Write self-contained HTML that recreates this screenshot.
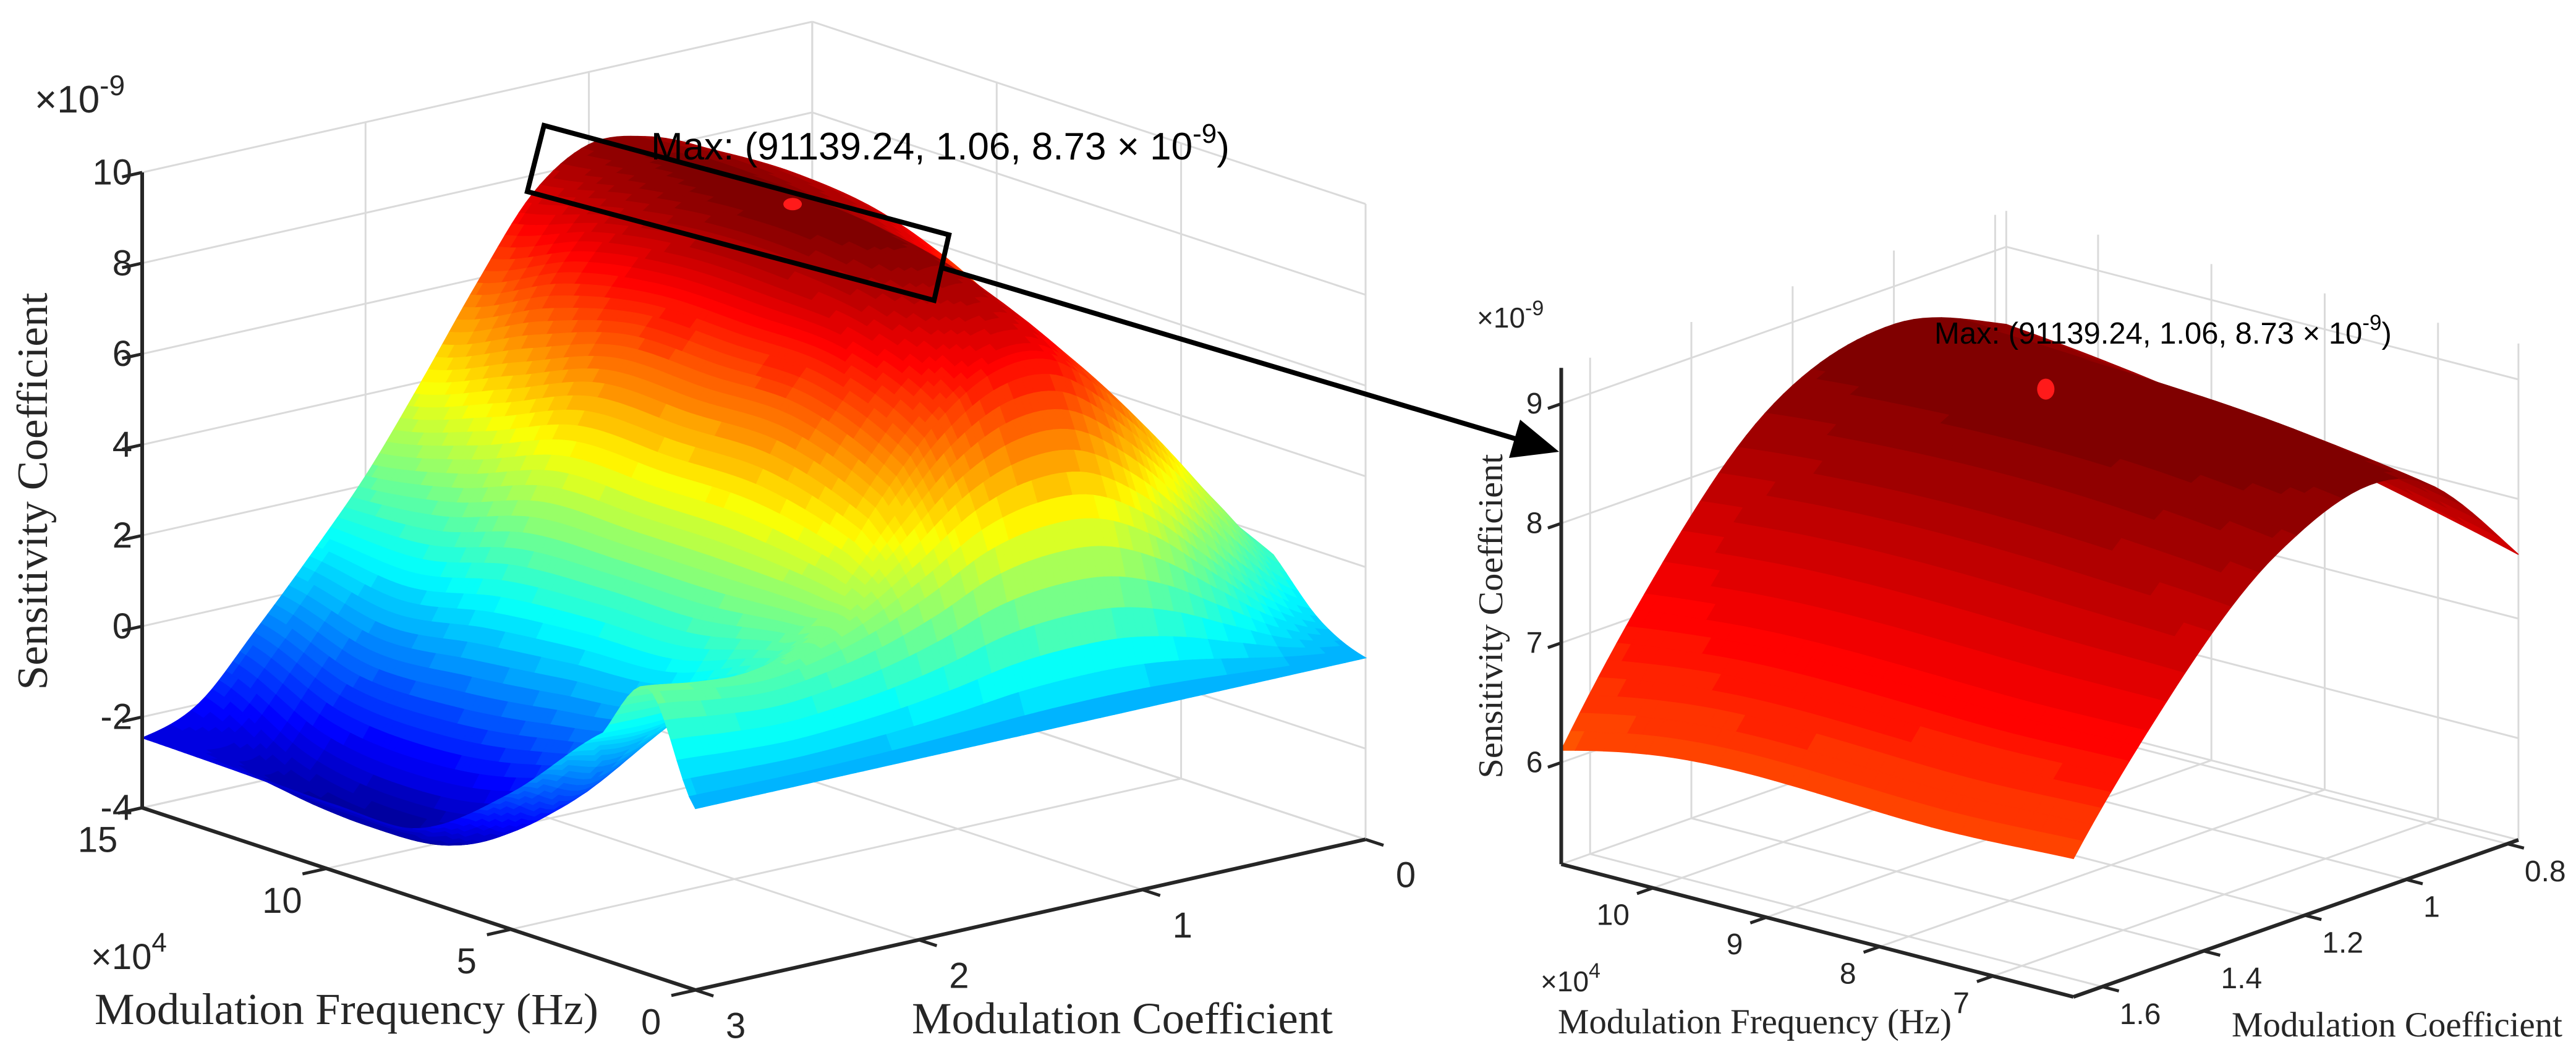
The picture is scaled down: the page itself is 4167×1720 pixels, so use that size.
<!DOCTYPE html>
<html><head><meta charset="utf-8"><title>Sensitivity Coefficient surface</title>
<style>html,body{margin:0;padding:0;background:#fff;}svg{display:block;}</style></head>
<body>
<svg id="fig" xmlns="http://www.w3.org/2000/svg" width="4167" height="1720" viewBox="0 0 4167 1720">
<rect x="0" y="0" width="4167" height="1720" fill="#ffffff"/>
<g id="leftGrid"></g>
<g id="rightGrid"></g>
<g id="leftSurf"></g>
<g id="rightSurf"></g>
<g id="leftAxes"></g>
<g id="rightAxes"></g>
<g id="leftLabels" font-family="'Liberation Sans', sans-serif" font-size="58" fill="#262626"></g>
<g id="rightLabels" font-family="'Liberation Sans', sans-serif" font-size="48" fill="#262626"></g>

<!-- left titles -->
<text x="56" y="182" font-family="'Liberation Sans', sans-serif" font-size="62" fill="#262626">×10<tspan dy="-28" font-size="46">-9</tspan></text>
<text transform="translate(76,795) rotate(-90)" text-anchor="middle" font-family="'Liberation Serif', serif" font-size="70" fill="#262626" textLength="643" lengthAdjust="spacingAndGlyphs">Sensitivity Coefficient</text>
<text x="153" y="1657" font-family="'Liberation Serif', serif" font-size="72" fill="#262626" textLength="815" lengthAdjust="spacingAndGlyphs">Modulation Frequency (Hz)</text>
<text x="147" y="1568" font-family="'Liberation Sans', sans-serif" font-size="58" fill="#262626">×10<tspan dy="-28" font-size="44">4</tspan></text>
<text x="1475" y="1672" font-family="'Liberation Serif', serif" font-size="72" fill="#262626" textLength="681" lengthAdjust="spacingAndGlyphs">Modulation Coefficient</text>
<text x="1053" y="258" font-family="'Liberation Sans', sans-serif" font-size="62" fill="#000">Max: (91139.24, 1.06, 8.73 × 10<tspan dy="-27" font-size="44">-9</tspan><tspan dy="27">)</tspan></text>

<!-- right titles -->
<text x="2389" y="530" font-family="'Liberation Sans', sans-serif" font-size="46" fill="#262626">×10<tspan dy="-20" font-size="34">-9</tspan></text>
<text transform="translate(2430,997) rotate(-90)" text-anchor="middle" font-family="'Liberation Serif', serif" font-size="56" fill="#262626" textLength="525" lengthAdjust="spacingAndGlyphs">Sensitivity Coefficient</text>
<text x="2520" y="1672" font-family="'Liberation Serif', serif" font-size="57" fill="#262626" textLength="637" lengthAdjust="spacingAndGlyphs">Modulation Frequency (Hz)</text>
<text x="2492" y="1604" font-family="'Liberation Sans', sans-serif" font-size="46" fill="#262626">×10<tspan dy="-22" font-size="34">4</tspan></text>
<text x="3610" y="1677" font-family="'Liberation Serif', serif" font-size="57" fill="#262626" textLength="535" lengthAdjust="spacingAndGlyphs">Modulation Coefficient</text>
<text x="3129" y="556" font-family="'Liberation Sans', sans-serif" font-size="49" fill="#000">Max: (91139.24, 1.06, 8.73 × 10<tspan dy="-22" font-size="35">-9</tspan><tspan dy="22">)</tspan></text>

<g id="markers"></g>

<!-- zoom box and arrow -->
<polygon points="880,203 1535,380 1511,486 853,310" fill="none" stroke="#000" stroke-width="8" stroke-linejoin="miter"/>
<line x1="1523" y1="433" x2="2455" y2="711" stroke="#000" stroke-width="8"/>
<polygon points="2522,731 2441,741 2459,679" fill="#000"/>
</svg>
<script>
// ---------- data ----------
const fGrid = [0, 1.25, 2.5, 5, 7.5, 10, 12.5, 15];         // x10^4 Hz
const mGrid = [0, 0.25, 0.5, 0.75, 1, 1.25, 1.5, 1.75, 2, 2.25, 2.5, 2.75, 3];
const zF0   = [0, 0, 0, 0, 0, 0, 0, 0, 0, 0, 0, 0, 0];
const zF125 = [0.5, 1.2, 2.3, 3.4, 4.1, 4.2, 3.9, 3.2, 2.6, 2.2, 2.0, 2.1, 2.3];
const zF25  = [1.6, 3.0, 4.6, 6.0, 7.0, 7.0, 6.2, 4.8, 3.1, 1.8, 1.2, 1.0, 1.0];
const zF5   = [2.6, 4.0, 5.5, 7.0, 8.2, 8.0, 7.1, 5.6, 3.3, 1.1, -0.6, -1.5, -1.0];
const zF75  = [4.0, 5.3, 6.5, 7.7, 8.65, 8.4, 7.2, 5.6, 3.3, 1.0, -1.3, -3.0, -2.45];
const zF10  = [5.2, 6.5, 7.6, 8.2, 8.7, 8.4, 7.2, 5.6, 3.3, 0.8, -1.6, -3.3, -2.55];
const zF12  = [5.8, 7.0, 7.9, 8.4, 8.6, 8.1, 6.8, 4.8, 2.6, 0.4, -1.5, -3.0, -2.5];
const zF15  = [6.0, 7.0, 7.8, 8.3, 8.4, 7.6, 5.9, 4.0, 2.2, 0.7, -0.7, -2.0, -2.46];
const maxPoint = [9.113924, 1.06, 8.73];
const zTicksL = [-4, -2, 0, 2, 4, 6, 8, 10];
const fTicksL = [0, 5, 10, 15];
const mTicksL = [0, 1, 2, 3];
const zTicksR = [6, 7, 8, 9];
const fTicksR = [7, 8, 9, 10];
const mTicksR = [0.8, 1, 1.2, 1.4, 1.6];
const mTickTextR = ['0.8', '1', '1.2', '1.4', '1.6'];
const colorMin = -3.7, colorMax = 8.73;

const zGrid = [zF0, zF125, zF25, zF5, zF75, zF10, zF12, zF15];
const NS = 'http://www.w3.org/2000/svg';

// ---------- axes (projections) ----------
const L = {f0: 0, f1: 15, m0: 0, m1: 3, z0: -4, z1: 10};
const R = {f0: 6.29, f1: 10.81, m0: 0.778, m1: 1.657, z0: 5.15, z1: 9.3};
function projL(f, m, z) {
  return [230 + (15 - f) * 59.67 + (3 - m) * 361.3,
          1307 + (15 - f) * 19.67 - (3 - m) * 81.3 - (z + 4) * 73.43];
}
function projR(f, m, z) {
  return [3354 + (f - 6.29) * (-183.3) + (m - 1.657) * (-819),
          1613 + (f - 6.29) * (-47.5) + (m - 1.657) * 289 - (z - 5.15) * 193.5];
}

// ---------- helpers ----------
function cr(p0, p1, p2, p3, t) {
  return 0.5 * ((2 * p1) + (-p0 + p2) * t + (2 * p0 - 5 * p1 + 4 * p2 - p3) * t * t + (-p0 + 3 * p1 - 3 * p2 + p3) * t * t * t);
}
function locate(g, x) {
  let i = 0;
  while (i < g.length - 2 && x > g[i + 1]) i++;
  return [i, (x - g[i]) / (g[i + 1] - g[i])];
}
function gz(i, j) {
  i = Math.max(0, Math.min(fGrid.length - 1, i));
  j = Math.max(0, Math.min(mGrid.length - 1, j));
  return zGrid[i][j];
}
function zAt(f, m) {
  const [fi, tf] = locate(fGrid, f);
  const [mj, tm] = locate(mGrid, m);
  const rows = [];
  for (let k = -1; k <= 2; k++) {
    rows.push(cr(gz(fi + k, mj - 1), gz(fi + k, mj), gz(fi + k, mj + 1), gz(fi + k, mj + 2), tm));
  }
  return cr(rows[0], rows[1], rows[2], rows[3], tf);
}
function clamp(v) { return Math.max(0, Math.min(1, v)); }
function jet(z) {
  let x = (z - colorMin) / (colorMax - colorMin);
  x = clamp(x);
  x = Math.min(63, Math.floor(x * 64)) / 63;
  const r = clamp(1.5 - Math.abs(4 * x - 3));
  const g = clamp(1.5 - Math.abs(4 * x - 2));
  const b = clamp(1.5 - Math.abs(4 * x - 1));
  return 'rgb(' + Math.round(r * 255) + ',' + Math.round(g * 255) + ',' + Math.round(b * 255) + ')';
}
function line(parent, a, b, stroke, w, name) {
  const el = document.createElementNS(NS, 'line');
  el.setAttribute('x1', a[0].toFixed(1)); el.setAttribute('y1', a[1].toFixed(1));
  el.setAttribute('x2', b[0].toFixed(1)); el.setAttribute('y2', b[1].toFixed(1));
  el.setAttribute('stroke', stroke); el.setAttribute('stroke-width', w);
  
  
  parent.appendChild(el);
  return el;
}
function label(parent, p, txt, anchor, name) {
  const el = document.createElementNS(NS, 'text');
  el.setAttribute('x', p[0].toFixed(1)); el.setAttribute('y', p[1].toFixed(1));
  el.setAttribute('text-anchor', anchor);
  el.setAttribute('dominant-baseline', 'central');
  el.textContent = txt;
  
  
  parent.appendChild(el);
}

// ---------- gridlines & axes ----------
function drawBox(B, proj, gGrid, gAxes, zT, fT, mT, side) {
  const gc = '#dadada', gw = 3;
  zT.forEach(z => {
    line(gGrid, proj(B.f1, B.m1, z), proj(B.f1, B.m0, z), gc, gw, side + '-z-gridline-fwall');
    line(gGrid, proj(B.f1, B.m0, z), proj(B.f0, B.m0, z), gc, gw, side + '-z-gridline-mwall');
  });
  mT.forEach(m => {
    line(gGrid, proj(B.f1, m, B.z0), proj(B.f1, m, B.z1), gc, gw, side + '-m-gridline-wall');
    line(gGrid, proj(B.f1, m, B.z0), proj(B.f0, m, B.z0), gc, gw, side + '-m-gridline-floor');
  });
  fT.forEach(f => {
    line(gGrid, proj(f, B.m0, B.z0), proj(f, B.m0, B.z1), gc, gw, side + '-f-gridline-wall');
    line(gGrid, proj(f, B.m0, B.z0), proj(f, B.m1, B.z0), gc, gw, side + '-f-gridline-floor');
  });
  line(gGrid, proj(B.f1, B.m0, B.z0), proj(B.f1, B.m0, B.z1), gc, gw, side + '-back-edge');
  line(gGrid, proj(B.f0, B.m0, B.z0), proj(B.f0, B.m0, B.z1), gc, gw, side + '-right-edge');
  line(gGrid, proj(B.f1, B.m0, B.z0), proj(B.f1, B.m1, B.z0), gc, gw, side + '-floor-edge-f');
  line(gGrid, proj(B.f1, B.m0, B.z0), proj(B.f0, B.m0, B.z0), gc, gw, side + '-floor-edge-m');
  const ac = '#262626', aw = 6;
  line(gAxes, proj(B.f1, B.m1, B.z0), proj(B.f1, B.m1, B.z1), ac, aw, side + '-z-axis');
  line(gAxes, proj(B.f1, B.m1, B.z0), proj(B.f0, B.m1, B.z0), ac, aw, side + '-f-axis');
  line(gAxes, proj(B.f0, B.m1, B.z0), proj(B.f0, B.m0, B.z0), ac, aw, side + '-m-axis');
  const dm = (B.m1 - B.m0) * 0.03, df = (B.f1 - B.f0) * 0.025;
  zT.forEach(z => line(gAxes, proj(B.f1, B.m1, z), proj(B.f1, B.m1 + dm, z), ac, 5, side + '-z-tick'));
  fT.forEach(f => line(gAxes, proj(f, B.m1, B.z0), proj(f, B.m1 + dm * 1.2, B.z0), ac, 5, side + '-f-tick'));
  mT.forEach(m => line(gAxes, proj(B.f0, m, B.z0), proj(B.f0 - df * 1.3, m, B.z0), ac, 5, side + '-m-tick'));
}
drawBox(L, projL, document.getElementById('leftGrid'), document.getElementById('leftAxes'), zTicksL, fTicksL, mTicksL, 'left');
drawBox(R, projR, document.getElementById('rightGrid'), document.getElementById('rightAxes'), zTicksR, fTicksR, mTicksR, 'right');

// tick labels
const gLL = document.getElementById('leftLabels');
zTicksL.forEach(z => { const p = projL(15, 3, z); label(gLL, [p[0] - 16, p[1]], String(z), 'end', 'left-z-tick-label'); });
fTicksL.forEach(f => { const p = projL(f, 3, -4); label(gLL, [p[0] - 72, p[1] + 52], String(f), 'middle', 'left-f-tick-label'); });
mTicksL.forEach(m => { const p = projL(0, m, -4); label(gLL, [p[0] + 65, p[1] + 58], String(m), 'middle', 'left-m-tick-label'); });
const gRL = document.getElementById('rightLabels');
zTicksR.forEach(z => { const p = projR(R.f1, R.m1, z); label(gRL, [p[0] - 30, p[1]], String(z), 'end', 'right-z-tick-label'); });
fTicksR.forEach(f => { const p = projR(f, R.m1, R.z0); label(gRL, [p[0] - 38, p[1] + 44], String(f), 'end', 'right-f-tick-label'); });
mTicksR.forEach((m, i) => { const p = projR(R.f0, m, R.z0); label(gRL, [p[0] + 28, p[1] + 45], mTickTextR[i], 'start', 'right-m-tick-label'); });

// ---------- surfaces ----------
function drawSurface(g, B, proj, nf, nm, name) {
  const quads = [];
  const pts = [], zs = [];
  for (let i = 0; i <= nf; i++) {
    pts.push([]); zs.push([]);
    const f = B.f0 + (B.f1 - B.f0) * i / nf;
    for (let j = 0; j <= nm; j++) {
      const m = B.m0 + (B.m1 - B.m0) * j / nm;
      const z = zAt(f, m);
      zs[i].push(z);
      pts[i].push(proj(f, m, z));
    }
  }
  for (let i = 0; i < nf; i++) {
    for (let j = 0; j < nm; j++) {
      const fc = B.f0 + (B.f1 - B.f0) * (i + 0.5) / nf;
      const mc = B.m0 + (B.m1 - B.m0) * (j + 0.5) / nm;
      const depth = proj(fc, mc, 0)[1];
      const zc = (zs[i][j] + zs[i + 1][j] + zs[i][j + 1] + zs[i + 1][j + 1]) / 4;
      quads.push([depth, [pts[i][j], pts[i + 1][j], pts[i + 1][j + 1], pts[i][j + 1]], zc]);
    }
  }
  quads.sort((a, b) => a[0] - b[0]);
  const frag = document.createDocumentFragment();
  quads.forEach(q => {
    const el = document.createElementNS(NS, 'polygon');
    el.setAttribute('points', q[1].map(p => p[0].toFixed(1) + ',' + p[1].toFixed(1)).join(' '));
    const c = jet(q[2]);
    el.setAttribute('fill', c);
    el.setAttribute('stroke', c);
    el.setAttribute('stroke-width', '1.6');
    
    
    frag.appendChild(el);
  });
  g.appendChild(frag);
}
drawSurface(document.getElementById('leftSurf'), L, projL, 90, 96, 'left-surface-facet');
drawSurface(document.getElementById('rightSurf'), R, projR, 36, 48, 'right-surface-facet');

// ---------- max markers ----------
const gM = document.getElementById('markers');
(function () {
  const pl = projL(maxPoint[0], maxPoint[1], maxPoint[2]);
  const e1 = document.createElementNS(NS, 'ellipse');
  e1.setAttribute('cx', pl[0]); e1.setAttribute('cy', pl[1]);
  e1.setAttribute('rx', 15); e1.setAttribute('ry', 10);
  e1.setAttribute('fill', '#ff1a1a');
  
  
  gM.appendChild(e1);
  const pr = projR(maxPoint[0], maxPoint[1], maxPoint[2]);
  const e2 = document.createElementNS(NS, 'ellipse');
  e2.setAttribute('cx', pr[0] - 16); e2.setAttribute('cy', pr[1] + 16);
  e2.setAttribute('rx', 14); e2.setAttribute('ry', 17);
  e2.setAttribute('fill', '#ff1a1a');
  
  
  gM.appendChild(e2);
})();
</script>
</body></html>
